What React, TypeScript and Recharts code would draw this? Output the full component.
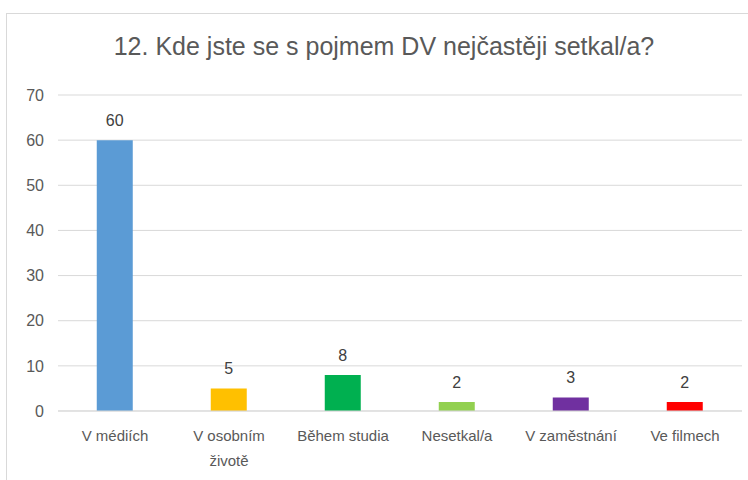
import React from "react";
import { BarChart, Bar, XAxis, YAxis, CartesianGrid, Cell, LabelList } from "recharts";

const categories = ["V médiích", "V osobním\nživotě", "Během studia", "Nesetkal/a", "V zaměstnání", "Ve filmech"];
const values = [60, 5, 8, 2, 3, 2];
const colors = ["#5B9BD5", "#FFC000", "#00B050", "#92D050", "#7030A0", "#FF0000"];
const yTicks = [0, 10, 20, 30, 40, 50, 60, 70];
const title = "12. Kde jste se s pojmem DV nejčastěji setkal/a?";

const data = categories.map((c, i) => ({ name: c, value: values[i] }));
const FONT = "'Liberation Sans', Arial, sans-serif";

const XTick = (props: any) => {
  const { x, y, payload } = props;
  const lines = String(payload.value).split("\n");
  return (
    <g transform={`translate(${x},${y})`}>
      {lines.map((l: string, i: number) => (
        <text key={i} x={0} y={22 + i * 25} textAnchor="middle" fill="#595959" fontSize={15} fontFamily={FONT}>
          {l}
        </text>
      ))}
    </g>
  );
};

export default function App() {
  return (
    <div style={{ position: "absolute", left: 0, top: 0, width: 748, height: 480, background: "#fff", overflow: "hidden" }}>
      <div style={{ position: "absolute", left: 6, top: 13, width: 800, height: 600, border: "1px solid #d9d9d9" }} />
      <div
        style={{
          position: "absolute",
          left: 0,
          top: 32,
          width: 768,
          textAlign: "center",
          fontFamily: FONT,
          fontSize: 25,
          color: "#595959",
        }}
      >
        {title}
      </div>
      <div style={{ position: "absolute", left: 0, top: 0 }}>
        <BarChart width={748} height={480} data={data} margin={{ top: 95, right: 6, bottom: 0, left: 0 }} barCategoryGap="34%">
          <CartesianGrid vertical={false} stroke="#d9d9d9" />
          <XAxis
            dataKey="name"
            interval={0}
            height={69}
            tickLine={false}
            axisLine={{ stroke: "#d9d9d9" }}
            tick={<XTick />}
          />
          <YAxis
            width={58}
            domain={[0, 70]}
            ticks={yTicks}
            tickLine={false}
            axisLine={false}
            tickMargin={8}
            tick={{ fill: "#595959", fontSize: 16, fontFamily: FONT }}
          />
          <Bar dataKey="value" isAnimationActive={false}>
            {data.map((d, i) => (
              <Cell key={i} fill={colors[i]} />
            ))}
            <LabelList dataKey="value" position="top" offset={14} fill="#404040" fontSize={16} fontFamily={FONT} />
          </Bar>
        </BarChart>
      </div>
    </div>
  );
}
